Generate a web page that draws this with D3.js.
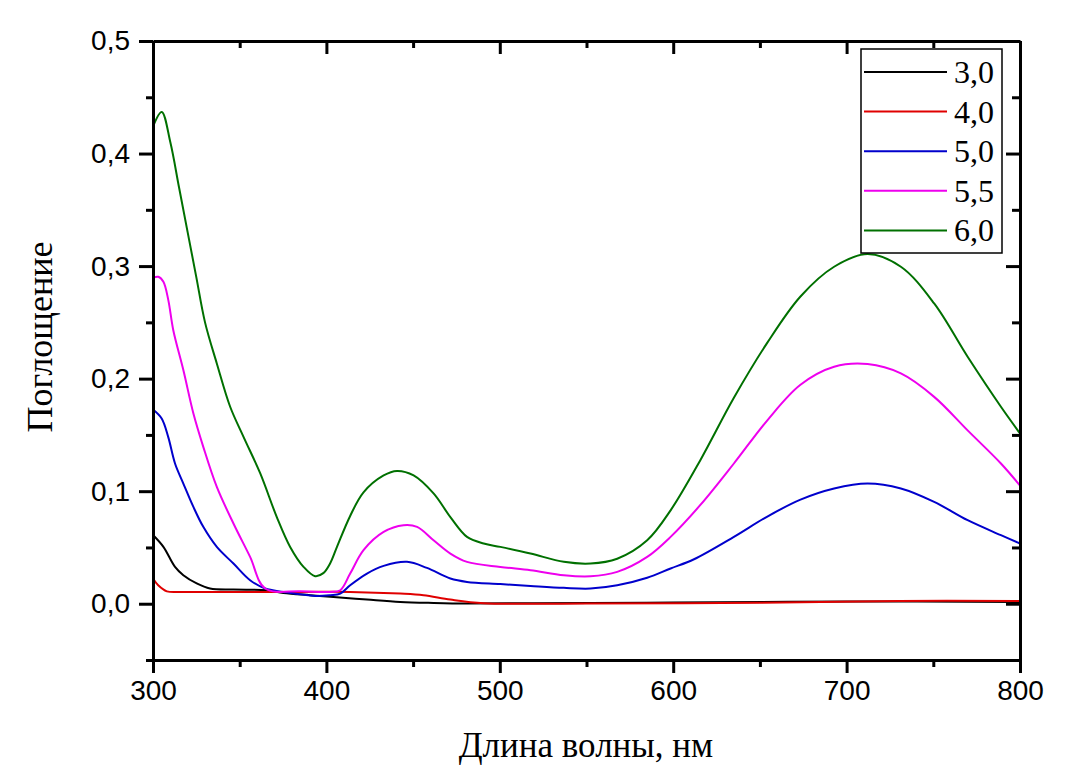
<!DOCTYPE html>
<html>
<head>
<meta charset="utf-8">
<script src="https://cdn.jsdelivr.net/npm/d3@7"></script>
<style>
    body { margin: 0; background: #fff; }
    svg { display: block; }
</style>
</head>
<body>
<div class="chart_global"></div>
<script>
// спектры поглощения при разных pH (длина волны, нм / поглощение)
const wl30 = [300, 306, 312.7, 317.5, 325.2, 332.9, 346.4, 365.6, 375.2, 390.6, 404.1, 423.4, 442.6, 461.8, 481.1, 520, 600, 700, 800]
const abs30 = [0.061, 0.0505, 0.0327, 0.0253, 0.018, 0.0135, 0.0126, 0.012, 0.0096, 0.0076, 0.006, 0.0037, 0.0016, 0.0007, 0.0002, 0.0005, 0.001, 0.002, 0.0015]

const wl40 = [300, 303, 308, 317.5, 384.9, 413.7, 442.6, 456, 471.5, 490.7, 550, 650, 730, 800]
const abs40 = [0.0224, 0.0164, 0.011, 0.0105, 0.0105, 0.0105, 0.009, 0.0076, 0.0037, 0.0005, 0.0003, 0.0008, 0.0025, 0.0025]

const wl50 = [300, 305, 308.8, 312.7, 317.5, 323.3, 329, 336.8, 346.4, 356, 364.7, 375.2, 393.5, 402.2, 408, 413.7, 423.4, 433, 446.5, 458, 471.5, 481.1, 500.3, 517.7, 536.9, 552.3, 567.7, 585, 598.5, 612, 635, 654.3, 673.4, 692.8, 712.1, 731.3, 750.5, 769.8, 789, 800]
const abs50 = [0.1726, 0.1646, 0.148, 0.1246, 0.1068, 0.086, 0.0683, 0.0505, 0.0357, 0.0209, 0.0135, 0.0105, 0.0069, 0.0076, 0.009, 0.0164, 0.0268, 0.0336, 0.0372, 0.0318, 0.0224, 0.0194, 0.0175, 0.0158, 0.0141, 0.0135, 0.0164, 0.0231, 0.0313, 0.0395, 0.0594, 0.0775, 0.0925, 0.1024, 0.1068, 0.1024, 0.0905, 0.0742, 0.0609, 0.0535]

const wl55 = [300, 303.1, 306, 308.8, 311.7, 317.5, 323.3, 329, 336.8, 346.4, 356, 364.7, 385, 402, 408, 413.7, 421.4, 433, 444.5, 452.3, 461.8, 471.5, 481.1, 500.3, 517.7, 536.9, 552.3, 567.7, 585, 598.5, 615.8, 635, 654.3, 673.4, 692.8, 712.1, 731.3, 750.5, 769.8, 789, 800]
const abs55 = [0.2896, 0.2905, 0.286, 0.27, 0.243, 0.2076, 0.169, 0.1394, 0.1038, 0.0713, 0.0416, 0.0135, 0.011, 0.0105, 0.012, 0.0268, 0.0476, 0.0638, 0.0698, 0.0683, 0.0564, 0.0446, 0.0372, 0.0327, 0.0298, 0.0253, 0.0244, 0.0283, 0.0416, 0.0594, 0.088, 0.1246, 0.163, 0.1945, 0.2105, 0.2129, 0.2046, 0.1838, 0.154, 0.1246, 0.105]

const wl60 = [300, 305, 310, 315, 320, 325, 330, 336.8, 344.5, 352.2, 361.8, 371.4, 379.1, 386.8, 393.5, 398.2, 402.2, 406.1, 413.7, 421.4, 433, 440.7, 450.3, 461.8, 471.5, 481.1, 490.7, 500.3, 517.7, 536.9, 552.3, 567.7, 585, 598.5, 615.8, 635, 654.3, 673.4, 692.8, 712.1, 731.3, 750.5, 769.8, 789, 800]
const abs60 = [0.424, 0.437, 0.41, 0.37, 0.33, 0.29, 0.25, 0.2135, 0.175, 0.1483, 0.116, 0.077, 0.0505, 0.0328, 0.0245, 0.0272, 0.036, 0.0505, 0.078, 0.099, 0.114, 0.118, 0.114, 0.098, 0.077, 0.0594, 0.0535, 0.0505, 0.0446, 0.0372, 0.0357, 0.04, 0.0564, 0.083, 0.128, 0.183, 0.232, 0.273, 0.2994, 0.3107, 0.2994, 0.2668, 0.2194, 0.175, 0.1513]

const seriesNames = ['3,0', '4,0', '5,0', '5,5', '6,0']
const seriesColors = ['#000000', '#e00000', '#0000cc', '#ee00ee', '#007000']
const seriesX = [wl30, wl40, wl50, wl55, wl60]
const seriesY = [abs30, abs40, abs50, abs55, abs60]

const xTicks = [300, 400, 500, 600, 700, 800]
const yTicks = [0.0, 0.1, 0.2, 0.3, 0.4, 0.5]

const width = 1072
const height = 777
const margin = { left: 153, right: 52, top: 41, bottom: 117 }

const svg = d3.select('.chart_global')
    .append('svg')
    .attr('width', width)
    .attr('height', height)

const xScale = d3.scaleLinear().domain([300, 800]).range([margin.left, width - margin.right])
const yScale = d3.scaleLinear().domain([-0.05, 0.5]).range([height - margin.bottom, margin.top])

const fmt = d => d3.format('.1f')(d).replace('.', ',')
const xMinor = d3.range(350, 800, 100)
const yMinor = d3.range(-0.05, 0.5, 0.1).map(v => +v.toFixed(2))

// линии спектров
const line = d3.line()
    .x(d => xScale(d[0]))
    .y(d => yScale(d[1]))
    .curve(d3.curveCatmullRom.alpha(0.5))

seriesX.forEach((xs, i) => {
    const pts = xs.map((x, j) => [x, seriesY[i][j]])
    svg.append('path')
        .attr('d', line(pts))
        .attr('fill', 'none')
        .attr('stroke', seriesColors[i])
        .attr('stroke-width', 2)
})

// оси
const tickFont = (g) => g.selectAll('text')
    .attr('font-family', 'Liberation Sans, Arial, sans-serif')
    .attr('font-size', 28)
    .attr('fill', '#000')

const axisStyle = (g) => {
    g.select('.domain').attr('stroke-width', 3)
    g.selectAll('.tick line').attr('stroke-width', 3)
}

// нижняя
svg.append('g')
    .attr('transform', `translate(0,${yScale(-0.05)})`)
    .call(d3.axisBottom(xScale).tickValues(xTicks).tickSize(13).tickSizeOuter(0).tickPadding(7).tickFormat(d3.format('d')))
    .call(axisStyle)
    .call(tickFont)
svg.append('g')
    .attr('transform', `translate(0,${yScale(-0.05)})`)
    .call(d3.axisBottom(xScale).tickValues(xMinor).tickSize(7).tickFormat(''))
    .call(g => g.select('.domain').remove())
    .call(axisStyle)

// верхняя
svg.append('g')
    .attr('transform', `translate(0,${yScale(0.5)})`)
    .call(d3.axisBottom(xScale).tickValues(xTicks).tickSize(13).tickSizeOuter(0).tickFormat(''))
    .call(axisStyle)
svg.append('g')
    .attr('transform', `translate(0,${yScale(0.5)})`)
    .call(d3.axisBottom(xScale).tickValues(xMinor).tickSize(7).tickFormat(''))
    .call(g => g.select('.domain').remove())
    .call(axisStyle)

// левая
svg.append('g')
    .attr('transform', `translate(${xScale(300)},0)`)
    .call(d3.axisLeft(yScale).tickValues(yTicks).tickSize(14).tickSizeOuter(0).tickPadding(9).tickFormat(fmt))
    .call(axisStyle)
    .call(tickFont)
svg.append('g')
    .attr('transform', `translate(${xScale(300)},0)`)
    .call(d3.axisLeft(yScale).tickValues(yMinor).tickSize(7).tickFormat(''))
    .call(g => g.select('.domain').remove())
    .call(axisStyle)

// правая
svg.append('g')
    .attr('transform', `translate(${xScale(800)},0)`)
    .call(d3.axisLeft(yScale).tickValues(yTicks).tickSize(14).tickSizeOuter(0).tickFormat(''))
    .call(axisStyle)
svg.append('g')
    .attr('transform', `translate(${xScale(800)},0)`)
    .call(d3.axisLeft(yScale).tickValues(yMinor).tickSize(8).tickFormat(''))
    .call(g => g.select('.domain').remove())
    .call(axisStyle)

// подписи осей
svg.append('text')
    .attr('x', 586)
    .attr('y', 757)
    .attr('text-anchor', 'middle')
    .attr('font-family', 'Liberation Serif, Times New Roman, serif')
    .attr('font-size', 35)
    .text('Длина волны, нм')

svg.append('text')
    .attr('transform', `translate(52,337) rotate(-90)`)
    .attr('text-anchor', 'middle')
    .attr('font-family', 'Liberation Serif, Times New Roman, serif')
    .attr('font-size', 36)
    .text('Поглощение')

// легенда
const legend = svg.append('g')
legend.append('rect')
    .attr('x', 861).attr('y', 49)
    .attr('width', 141).attr('height', 204)
    .attr('fill', '#fff')
    .attr('stroke', '#000')
    .attr('stroke-width', 1.5)

seriesNames.forEach((name, i) => {
    const y = 72 + i * 39.6
    legend.append('line')
        .attr('x1', 864).attr('x2', 947)
        .attr('y1', y).attr('y2', y)
        .attr('stroke', seriesColors[i])
        .attr('stroke-width', 2)
    legend.append('text')
        .attr('x', 954).attr('y', y + 11)
        .attr('font-family', 'Liberation Serif, Times New Roman, serif')
        .attr('font-size', 32)
        .text(name)
})
</script>
</body>
</html>
